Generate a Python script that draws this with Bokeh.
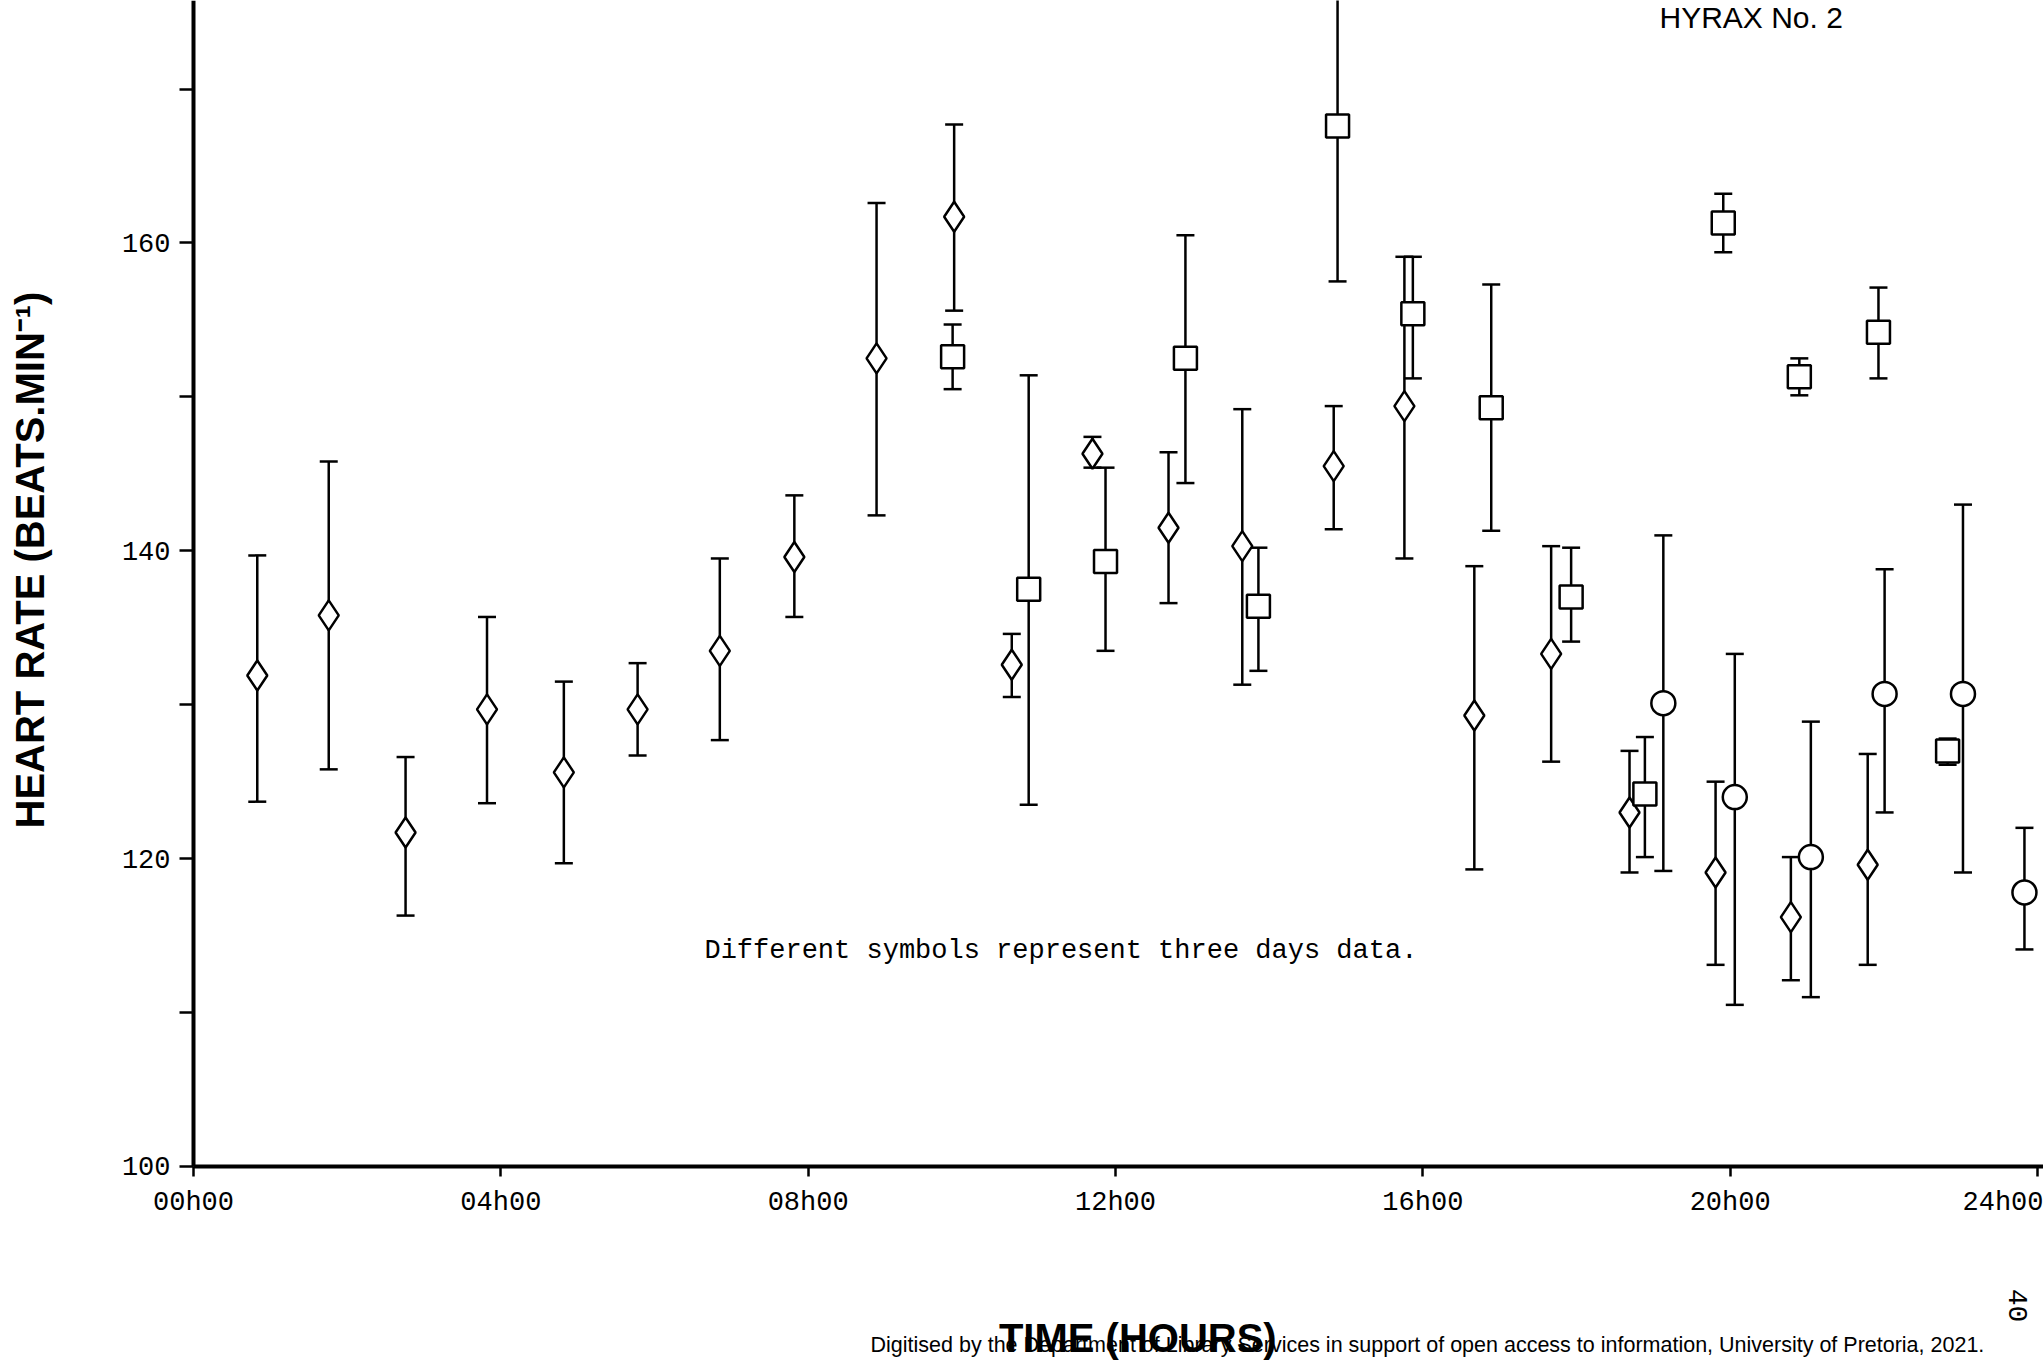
import math

from bokeh.plotting import figure
from bokeh.models import ColumnDataSource, Whisker, TeeHead, Range1d, FixedTicker, Label
from bokeh.embed import file_html
from bokeh.resources import INLINE

# Day 1 (diamonds): time of day (h), mean heart rate, upper and lower error limits
day1_time = [0.83, 1.76, 2.76, 3.82, 4.82, 5.78, 6.85, 7.82, 8.89, 9.90, 10.65,
             11.70, 12.69, 13.65, 14.84, 15.76, 16.67, 17.67, 18.69, 19.81, 20.79, 21.79]
day1_rate = [131.9, 135.8, 121.7, 129.7, 125.6, 129.7, 133.5, 139.6, 152.5, 161.7, 132.6,
             146.3, 141.5, 140.3, 145.5, 149.4, 129.3, 133.3, 123.0, 119.1, 116.2, 119.6]
day1_high = [139.7, 145.8, 126.6, 135.7, 131.5, 132.7, 139.5, 143.6, 162.6, 167.7, 134.6,
             147.4, 146.4, 149.2, 149.4, 159.1, 139.0, 140.3, 127.0, 125.0, 120.1, 126.8]
day1_low = [123.7, 125.8, 116.3, 123.6, 119.7, 126.7, 127.7, 135.7, 142.3, 155.6, 130.5,
            145.4, 136.6, 131.3, 141.4, 139.5, 119.3, 126.3, 119.1, 113.1, 112.1, 113.1]

# Day 2 (squares)
day2_time = [9.88, 10.87, 11.87, 12.91, 13.86, 14.89, 15.87, 16.89, 17.93, 18.89,
             19.91, 20.90, 21.93, 22.83]
day2_rate = [152.6, 137.5, 139.3, 152.5, 136.4, 167.6, 155.4, 149.3, 137.0, 124.2,
             161.3, 151.3, 154.2, 127.0]
day2_high = [154.7, 151.4, 145.4, 160.5, 140.2, 178.0, 159.1, 157.3, 140.2, 127.9,
             163.2, 152.5, 157.1, 127.8]
day2_low = [150.5, 123.5, 133.5, 144.4, 132.2, 157.5, 151.2, 141.3, 134.1, 120.1,
            159.4, 150.1, 151.2, 126.1]

# Day 3 (circles)
day3_time = [19.13, 20.06, 21.05, 22.01, 23.03, 23.83]
day3_rate = [130.1, 124.0, 120.1, 130.7, 130.7, 117.8]
day3_high = [141.0, 133.3, 128.9, 138.8, 143.0, 122.0]
day3_low = [119.2, 110.5, 111.0, 123.0, 119.1, 114.1]

x_ticks = [0, 4, 8, 12, 16, 20, 24]
x_tick_labels = ["00h00", "04h00", "08h00", "12h00", "16h00", "20h00", "24h00"]
y_ticks = [100, 110, 120, 130, 140, 150, 160, 170]
y_tick_labels = ["100", "", "120", "", "140", "", "160", ""]

x_title = "TIME (HOURS)"
y_title = "HEART RATE (BEATS.MIN⁻¹)"

MONO = "Liberation Mono"
SANS = "Liberation Sans"

# The frame fills the whole page; the axes sit at fixed positions inside it,
# which leaves room for the titles and page notes around the graph.
p = figure(width=2043, height=1367, output_backend="svg", toolbar_location=None,
           x_range=Range1d(-2.512, 24.078), y_range=Range1d(86.94, 175.75),
           min_border=0, background_fill_color="white",
           border_fill_color="white")
p.outline_line_color = None
p.grid.visible = False

for ax in (p.xaxis[0], p.yaxis[0]):
    ax.axis_line_width = 4
    ax.axis_line_color = "black"
    ax.major_tick_line_width = 2.5
    ax.major_tick_line_color = "black"
    ax.major_tick_in = 0
    ax.minor_tick_line_color = None
    ax.major_label_text_font = MONO
    ax.major_label_text_font_size = "27px"
    ax.major_label_text_color = "black"

p.xaxis.fixed_location = 100
p.xaxis.bounds = (0, 24.95)
p.xaxis.ticker = FixedTicker(ticks=x_ticks)
p.xaxis.major_label_overrides = dict(zip(x_ticks, x_tick_labels))
p.xaxis.major_tick_out = 10
p.xaxis.major_label_standoff = 12

p.yaxis.fixed_location = 0
p.yaxis.bounds = (100, 181.7)
p.yaxis.ticker = FixedTicker(ticks=y_ticks)
p.yaxis.major_label_overrides = dict(zip(y_ticks, y_tick_labels))
p.yaxis.major_tick_out = 14
p.yaxis.major_label_standoff = 9
p.yaxis.major_label_orientation = "horizontal"

# Axis titles
p.add_layout(Label(x=12.29, y=88.85, text=x_title, text_font=SANS,
                   text_font_style="bold", text_font_size="40px", text_color="black",
                   text_align="center", text_baseline="middle"))
p.add_layout(Label(x=-2.134, y=139.4, text=y_title, angle=math.pi / 2,
                   text_font=SANS, text_font_style="bold", text_font_size="40px",
                   text_color="black", text_align="center", text_baseline="middle"))

# Error bars, then symbols on top with white fill
series = [
    (day1_time, day1_rate, day1_high, day1_low, "diamond", 30),
    (day2_time, day2_rate, day2_high, day2_low, "square", 23),
    (day3_time, day3_rate, day3_high, day3_low, "circle", 24),
]
for t, r, hi, lo, marker, size in series:
    src = ColumnDataSource(dict(x=t, y=r, hi=hi, lo=lo))
    p.add_layout(Whisker(source=src, base="x", upper="hi", lower="lo",
                         line_color="black", line_width=2.5,
                         upper_head=TeeHead(size=18, line_width=2.5, line_color="black"),
                         lower_head=TeeHead(size=18, line_width=2.5, line_color="black")))
    p.scatter("x", "y", source=src, marker=marker, size=size,
              fill_color="white", line_color="black", line_width=2.5)

# Notes on the page
p.add_layout(Label(x=6.65, y=114.0, text="Different symbols represent three days data.",
                   text_font=MONO, text_font_size="27px", text_color="black",
                   text_align="left", text_baseline="middle"))
p.add_layout(Label(x=19.08, y=175.7, text="HYRAX No. 2", text_font=SANS,
                   text_font_size="30px", text_color="black",
                   text_align="left", text_baseline="top"))
p.add_layout(Label(x=16.06, y=88.37,
                   text="Digitised by the Department of Library Services in support of open access to information, University of Pretoria, 2021.",
                   text_font=SANS, text_font_size="21.5px", text_color="black",
                   text_align="center", text_baseline="middle"))
p.add_layout(Label(x=23.74, y=90.97, text="40", angle=-math.pi / 2, text_font=MONO,
                   text_font_size="28px", text_color="black",
                   text_align="center", text_baseline="middle"))

open("out.html", "w").write(file_html(p, INLINE))
